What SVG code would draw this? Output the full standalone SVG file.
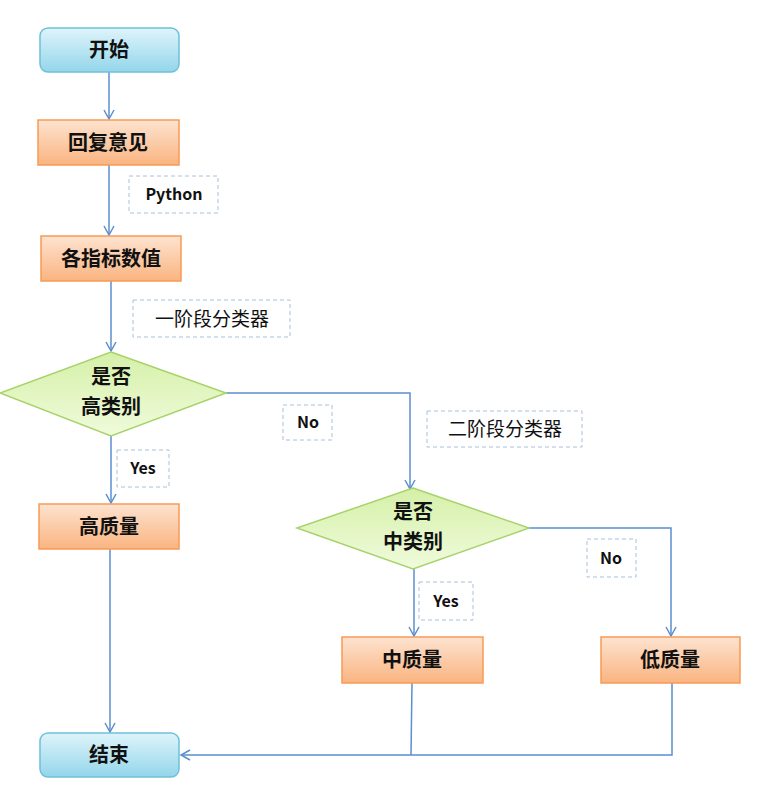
<svg xmlns="http://www.w3.org/2000/svg" width="766" height="792" viewBox="0 0 766 792">
<defs>
<linearGradient id="gb" x1="0" y1="0" x2="0" y2="1"><stop offset="0" stop-color="#dff4fb"/><stop offset="1" stop-color="#93d6ea"/></linearGradient>
<linearGradient id="go" x1="0" y1="0" x2="0" y2="1"><stop offset="0" stop-color="#fde3d0"/><stop offset="1" stop-color="#fab480"/></linearGradient>
<linearGradient id="gg" x1="0" y1="0" x2="0" y2="1"><stop offset="0" stop-color="#d5f0a8"/><stop offset="1" stop-color="#f0fbdc"/></linearGradient>
<marker id="ar" markerWidth="12" markerHeight="12" refX="10" refY="6" orient="auto" markerUnits="userSpaceOnUse"><path d="M1,1 L10,6 L1,11" fill="none" stroke="#5b8fd0" stroke-width="1.5"/></marker>
</defs>
<style>
.b{fill:url(#gb);stroke:#6fc0d8;stroke-width:1.5}
.o{fill:url(#go);stroke:#f79a55;stroke-width:1.5}
.g{fill:url(#gg);stroke:#a7d36a;stroke-width:1.5}
.l{fill:#fff;stroke:#aac0de;stroke-width:1;stroke-dasharray:4,3}
.c{fill:none;stroke:#5b8fd0;stroke-width:1.5}
text{font-family:"Noto Sans CJK SC","Liberation Sans",sans-serif;font-size:20px;font-weight:bold;fill:#111;text-anchor:middle}
.s{font-size:16px}
.n{font-size:19px;font-weight:normal}
</style>
<g id="connectors">
<path class="c" d="M109,72 V119" marker-end="url(#ar)"/>
<path class="c" d="M109,165 V235" marker-end="url(#ar)"/>
<path class="c" d="M111,281 V351" marker-end="url(#ar)"/>
<path class="c" d="M111,436 V503" marker-end="url(#ar)"/>
<path class="c" d="M226,393 H410 V489" marker-end="url(#ar)"/>
<path class="c" d="M529,528 H671 V636" marker-end="url(#ar)"/>
<path class="c" d="M414,569 V636" marker-end="url(#ar)"/>
<path class="c" d="M110,549 V732" marker-end="url(#ar)"/>
<path class="c" d="M412,683 L411,755 M672,683 V755 H181" marker-end="url(#ar)"/>
</g>
<g id="start"><rect class="b" x="40" y="28" width="139" height="44" rx="8"/><text x="109" y="57">开始</text></g>
<g id="n1"><rect class="o" x="38" y="120" width="141" height="45"/><text x="108" y="150">回复意见</text></g>
<g id="lbl-python"><rect class="l" x="129" y="176" width="89" height="37"/><text class="s" x="174" y="200">Python</text></g>
<g id="n2"><rect class="o" x="41" y="236" width="140" height="45"/><text x="111" y="266">各指标数值</text></g>
<g id="lbl-c1"><rect class="l" x="133" y="300" width="157" height="37"/><text class="n" x="212" y="326">一阶段分类器</text></g>
<g id="d1"><polygon class="g" points="111,352 226,393 111,436 0,393"/><text x="111" y="384">是否</text><text x="111" y="414">高类别</text></g>
<g id="lbl-no1"><rect class="l" x="283" y="405" width="49" height="35"/><text class="s" x="308" y="428">No</text></g>
<g id="lbl-c2"><rect class="l" x="427" y="411" width="155" height="36"/><text class="n" x="505" y="436">二阶段分类器</text></g>
<g id="lbl-yes1"><rect class="l" x="117" y="450" width="52" height="37"/><text class="s" x="143" y="474">Yes</text></g>
<g id="high"><rect class="o" x="39" y="504" width="140" height="45"/><text x="109" y="534">高质量</text></g>
<g id="d2"><polygon class="g" points="413,488 529,528 413,569 297,528"/><text x="413" y="519">是否</text><text x="413" y="549">中类别</text></g>
<g id="lbl-no2"><rect class="l" x="587" y="539" width="49" height="38"/><text class="s" x="611" y="564">No</text></g>
<g id="lbl-yes2"><rect class="l" x="419" y="582" width="54" height="38"/><text class="s" x="446" y="607">Yes</text></g>
<g id="mid"><rect class="o" x="342" y="637" width="141" height="46"/><text x="412" y="667">中质量</text></g>
<g id="low"><rect class="o" x="601" y="637" width="139" height="46"/><text x="670" y="667">低质量</text></g>
<g id="end"><rect class="b" x="40" y="733" width="139" height="44" rx="8"/><text x="109" y="762">结束</text></g>
</svg>
